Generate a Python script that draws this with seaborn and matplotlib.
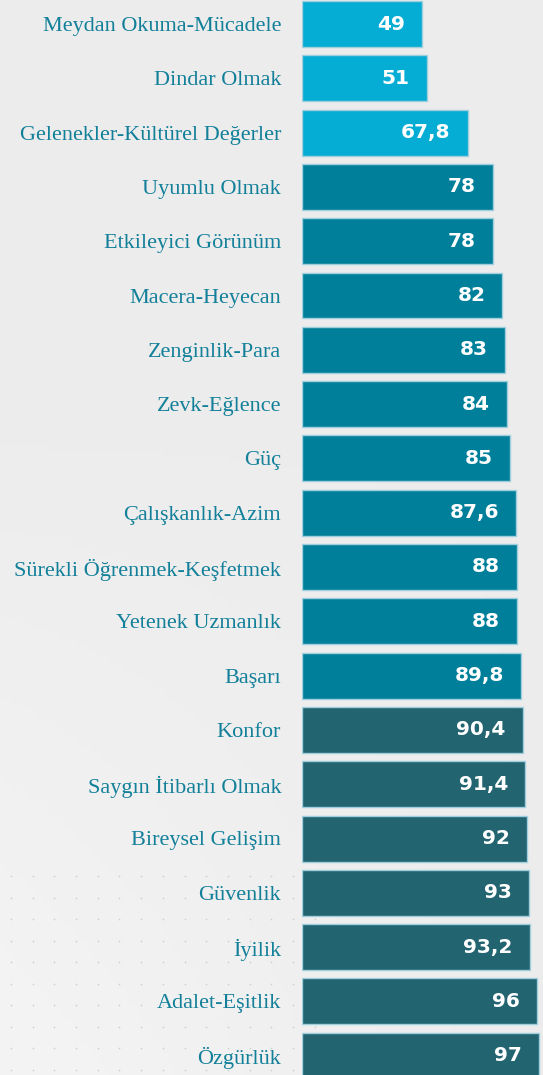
import numpy as np
import matplotlib.pyplot as plt
import seaborn as sns

sns.set_theme(style="white")

# Data
labels = ["Meydan Okuma-Mücadele", "Dindar Olmak", "Gelenekler-Kültürel Değerler",
          "Uyumlu Olmak", "Etkileyici Görünüm", "Macera-Heyecan", "Zenginlik-Para",
          "Zevk-Eğlence", "Güç", "Çalışkanlık-Azim", "Sürekli Öğrenmek-Keşfetmek",
          "Yetenek Uzmanlık", "Başarı", "Konfor", "Saygın İtibarlı Olmak",
          "Bireysel Gelişim", "Güvenlik", "İyilik", "Adalet-Eşitlik", "Özgürlük"]
values = [49, 51, 67.8, 78, 78, 82, 83, 84, 85, 87.6, 88, 88, 89.8, 90.4, 91.4,
          92, 93, 93.2, 96, 97]
groups = ["low"] * 3 + ["mid"] * 10 + ["high"] * 7

group_colors = {"low": "#05acd4", "mid": "#007f9a", "high": "#226470"}
colors = [group_colors[g] for g in groups]

W, H = 543, 1075
fig = plt.figure(figsize=(W / 100, H / 100), dpi=100)

# background: soft gray gradient
bg = fig.add_axes([0, 0, 1, 1])
yy, xx = np.mgrid[0:1:200j, 0:1:100j]
grad = 0.925 + 0.03 * np.clip((yy - 0.4) / 0.6, 0, 1) * (1 - xx)
bg.imshow(grad, cmap="gray", vmin=0, vmax=1, extent=[0, 1, 0, 1],
          aspect="auto", origin="upper")
# faint dot pattern lower left
dx, dy = np.meshgrid(np.arange(0.02, 0.6, 0.04), np.arange(0.005, 0.2, 0.02))
bg.scatter(dx, dy, s=1.5, color="#d0d0d0", linewidths=0)
bg.set_xlim(0, 1)
bg.set_ylim(0, 1)
bg.axis("off")

# bar axes: x=0 at 302px, 2.443 px per unit
x0 = 302
scale = 2.443
pitch = 54.3
first_center = 24
ax = fig.add_axes([x0 / W, 0, (W - x0) / W, 1])
ax.patch.set_alpha(0)

sns.barplot(x=values, y=labels, hue=labels, palette=colors, legend=False,
            orient="h", width=46 / pitch, edgecolor="#9fcfdc", linewidth=1,
            saturation=1, ax=ax)

ax.set_xlim(0, (W - x0) / scale)
ax.set_ylim((H - first_center) / pitch, -first_center / pitch)

for i, v in enumerate(values):
    txt = f"{v:g}".replace(".", ",")
    ax.text(v - 17 / scale, i, txt, ha="right", va="center", color="white",
            fontsize=14.5, fontweight="bold", family="DejaVu Sans")

ax.set_xticks([])
ax.tick_params(axis="y", length=0, pad=15)
for t in ax.get_yticklabels():
    t.set_fontfamily("Liberation Serif")
    t.set_fontsize(16)
    t.set_color("#13809a")
ax.set_xlabel("")
ax.set_ylabel("")
sns.despine(ax=ax, left=True, bottom=True)

fig.savefig("out.png", dpi=100)
